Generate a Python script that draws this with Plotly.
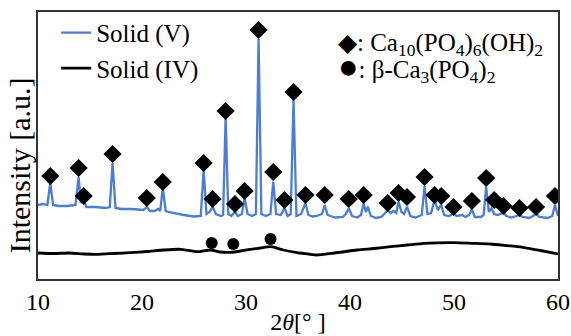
import plotly.graph_objects as go

# ---- data (2theta in degrees, intensity in arbitrary units) ----
solid_v_x = [10.0, 10.5, 10.9, 11.18, 11.45, 12.0, 12.8, 13.6, 13.91, 14.12, 14.39, 14.65, 15.5, 16.5, 16.9, 17.17, 17.45,
             18.0, 19.0, 20.15, 20.46, 20.75, 21.2, 21.55, 21.75, 22.0, 22.28, 23.0, 24.0, 25.0, 25.65, 25.93, 26.2,
             26.5, 26.79, 27.1, 27.6, 27.8, 28.04, 28.3, 28.6, 28.94, 29.2, 29.6, 29.87, 30.15, 30.6, 30.95, 31.21,
             31.48, 31.9, 32.35, 32.62, 32.9, 33.35, 33.7, 34.0, 34.3, 34.57, 34.85, 35.3, 35.72, 36.0, 36.4, 36.8,
             37.3, 37.57, 37.85, 38.1, 38.6, 39.3, 39.6, 39.88, 40.2, 40.7, 41.05, 41.32, 41.52, 41.72, 42.0, 42.5,
             43.0, 43.3, 43.62, 43.9, 44.2, 44.45, 44.67, 44.95, 45.2, 45.48, 45.8, 46.3, 46.9, 47.17, 47.45, 47.8,
             48.13, 48.45, 48.77, 49.05, 49.5, 49.7, 49.95, 50.25, 50.8, 51.1, 51.45, 51.72, 52.0, 52.6, 52.85, 53.09,
             53.35, 53.6, 53.86, 54.2, 54.45, 54.75, 55.05, 55.5, 56.0, 56.29, 56.6, 57.2, 57.6, 57.89, 58.2, 59.0,
             59.45, 59.71, 60.0]
solid_v_px = [205, 204, 205, 183, 205, 206, 206, 205, 177, 203, 200, 207, 207, 208, 207, 163, 208,
              209, 209, 210, 206.7, 211, 211, 209, 211, 188, 211, 213, 215, 216.5, 216, 170, 214,
              212, 206.7, 214, 216, 215, 117, 214, 216, 211.7, 216, 214, 197.7, 214, 216, 214, 39,
              214, 216, 214, 181.7, 214, 215, 208, 216, 214, 100, 216, 214, 203.3, 215, 216.5, 216,
              214, 205, 215, 216, 217.5, 217, 214, 208.3, 216, 217.5, 215, 203.3, 212, 206.7, 216, 218,
              217, 214, 210, 213, 211, 213, 201.7, 212, 214, 206.7, 216, 217.5, 215, 186, 214, 213,
              200, 210, 205, 215, 216, 215, 213.3, 216, 215, 217, 215, 209.3, 217, 217, 215, 186.7,
              212, 208.3, 214, 215, 214, 212.7, 216, 217.5, 216, 215, 217, 218, 216, 213.3, 217, 218,
              216, 205, 216]
solid_v_y = [279 - v for v in solid_v_px]

solid_iv_x = [10.0, 11.5, 13.0, 14.5, 15.7, 17.3, 18.9, 20.5, 22.1, 23.7, 25.3, 26.6, 27.5, 28.5, 29.5, 30.4,
              31.4, 32.4, 33.6, 34.9, 36.0, 36.8, 38.5, 40.7, 42.3, 43.9, 45.5, 47.1, 48.5, 50.0, 51.7, 53.5,
              55.0, 56.6, 58.3, 60.0]
solid_iv_px = [253, 253.5, 253, 254, 254.3, 253.5, 252.7, 251.5, 250, 249.3, 251.7, 250, 252, 252.3, 251, 249.3,
               248, 246.7, 250, 252.7, 254, 255, 253, 250, 248.5, 246.7, 245, 243.3, 242.8, 242.7, 243.3, 244,
               245.5, 247.3, 250.5, 254]
solid_iv_y = [279 - v for v in solid_iv_px]

ha_x = [11.18, 13.91, 14.39, 17.17, 20.46, 22.0, 25.93, 26.79, 28.04, 28.94, 29.87, 31.21, 32.62, 33.70, 34.57,
        35.72, 37.57, 39.88, 41.32, 43.62, 44.67, 45.48, 47.17, 48.13, 48.77, 49.95, 51.72, 53.09, 53.86, 54.75,
        56.29, 57.89, 59.71]
ha_px = [176, 168, 196, 154, 198, 182, 163, 199, 111, 204, 191, 30, 172, 200, 92,
         195, 195, 199, 195, 203, 193, 197, 177, 195, 196, 207, 201, 178, 200, 206,
         208, 207, 196]
ha_y = [279 - v for v in ha_px]

tcp_x = [26.70, 28.78, 32.36]
tcp_px = [243, 244, 239]
tcp_y = [279 - v for v in tcp_px]

FONT = "Liberation Serif, Times New Roman, serif"
BLUE = "#4A7DD6"

fig = go.Figure()
fig.add_trace(go.Scatter(x=solid_v_x, y=solid_v_y, mode="lines", name="Solid (V)",
                         line=dict(color=BLUE, width=2.3)))
fig.add_trace(go.Scatter(x=solid_iv_x, y=solid_iv_y, mode="lines", name="Solid (IV)",
                         line=dict(color="black", width=2.8, shape="spline", smoothing=0.6)))
fig.add_trace(go.Scatter(x=ha_x, y=ha_y, mode="markers", showlegend=False,
                         marker=dict(symbol="diamond", size=14, color="black")))
fig.add_trace(go.Scatter(x=tcp_x, y=tcp_y, mode="markers", showlegend=False,
                         marker=dict(symbol="circle", size=12, color="black")))

fig.add_annotation(xref="paper", yref="paper", x=0.573, y=0.88, xanchor="left", yanchor="middle",
                   showarrow=False, font=dict(family=FONT, size=25, color="black"),
                   text="◆: Ca<sub>10</sub>(PO<sub>4</sub>)<sub>6</sub>(OH)<sub>2</sub>")
fig.add_annotation(xref="paper", yref="paper", x=0.573, y=0.792, xanchor="left", yanchor="middle",
                   showarrow=False, font=dict(family=FONT, size=25, color="black"),
                   text="<span style=\"font-size:34px\">●</span>: β-Ca<sub>3</sub>(PO<sub>4</sub>)<sub>2</sub>")
fig.add_annotation(xref="paper", yref="paper", x=-0.035, y=0.425, xanchor="center", yanchor="middle",
                   showarrow=False, textangle=-90, font=dict(family=FONT, size=30, color="black"),
                   text="Intensity [a.u.]")

fig.update_layout(
    width=571, height=336,
    margin=dict(l=38, r=13, t=12, b=57, autoexpand=False),
    paper_bgcolor="white", plot_bgcolor="white",
    font=dict(family=FONT, size=24, color="black"),
    legend=dict(x=0.035, y=1.008, xanchor="left", yanchor="top", bgcolor="rgba(0,0,0,0)",
                font=dict(family=FONT, size=25, color="black")),
    xaxis=dict(range=[10, 60], dtick=10, tick0=10, showgrid=False, zeroline=False,
               showline=True, linecolor="#333333", linewidth=1.5, mirror=True, ticks="",
               tickfont=dict(family=FONT, size=24, color="black"),
               title=dict(text="2<i>θ</i>[° ]", font=dict(family=FONT, size=24, color="black"), standoff=0)),
    yaxis=dict(range=[0, 267], showgrid=False, zeroline=False, showticklabels=False,
               showline=True, linecolor="#333333", linewidth=1.5, mirror=True, ticks=""),
)

fig.write_html("out.html", config={"responsive": False, "displayModeBar": False},
               post_script="document.body.style.margin='0px';")
